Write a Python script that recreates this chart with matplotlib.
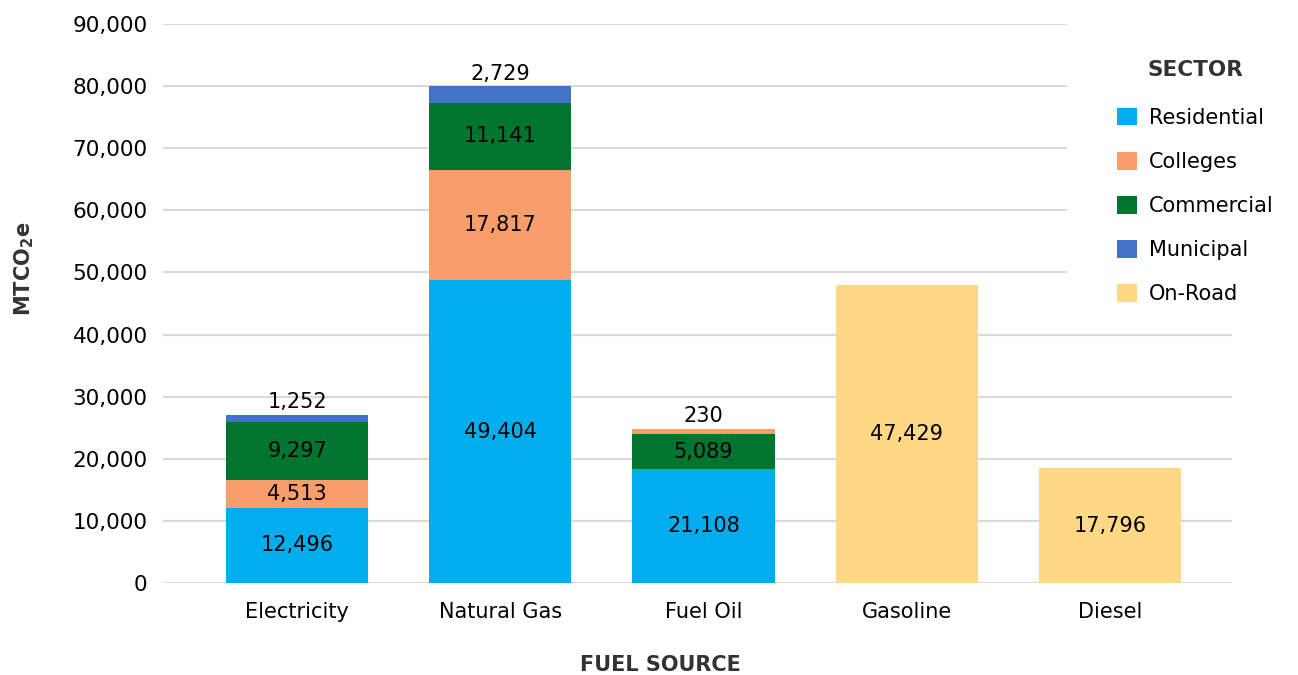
import numpy as np
import matplotlib
matplotlib.use("Agg")
import matplotlib.pyplot as plt
from matplotlib.patches import Rectangle

plt.rcParams["font.family"] = ["DejaVu Sans"]

fuels = ["Electricity", "Natural Gas", "Fuel Oil", "Gasoline", "Diesel"]
sectors = ["Residential", "Colleges", "Commercial", "Municipal", "On-Road"]
colors = ["#00AEEF", "#F79E6B", "#00752F", "#4472C4", "#FFD886"]

# bar heights as drawn in the picture
residential = [12100, 48710, 18390, 0, 0]
colleges = [4420, 17810, 0, 0, 0]
commercial = [9350, 10740, 5550, 0, 0]
municipal = [1180, 2690, 0, 0, 0]
colleges_top = [0, 0, 900, 0, 0]  # fuel oil colleges sits on top
on_road = [0, 0, 0, 48020, 18500]

# printed value labels
lab_residential = ["12,496", "49,404", "21,108", "", ""]
lab_colleges = ["4,513", "17,817", "", "", ""]
lab_colleges_top = ["", "", "230", "", ""]
lab_commercial = ["9,297", "11,141", "5,089", "", ""]
lab_municipal = ["1,252", "2,729", "", "", ""]
lab_on_road = ["", "", "", "47,429", "17,796"]

fig = plt.figure(figsize=(12.98, 6.75), dpi=100)
ax = fig.add_axes([163 / 1298, 1 - 583 / 675, 1069 / 1298, 559 / 675])

x = np.arange(len(fuels))
w = 0.70
series = [(residential, "Residential", colors[0]),
          (colleges, "Colleges", colors[1]),
          (commercial, "Commercial", colors[2]),
          (municipal, "Municipal", colors[3]),
          (colleges_top, "_nolegend_", colors[1]),
          (on_road, "On-Road", colors[4])]
bottom = np.zeros(len(fuels))
conts = []
for vals, name, c in series:
    bc = ax.bar(x, vals, w, bottom=bottom, color=c, label=name, zorder=2)
    conts.append(bc)
    bottom += np.array(vals)

fs = 15
ax.bar_label(conts[0], labels=lab_residential, label_type="center", fontsize=fs)
ax.bar_label(conts[1], labels=lab_colleges, label_type="center", fontsize=fs)
ax.bar_label(conts[2], labels=lab_commercial, label_type="center", fontsize=fs)
ax.bar_label(conts[3], labels=lab_municipal, label_type="edge", padding=2, fontsize=fs)
ax.bar_label(conts[4], labels=lab_colleges_top, label_type="edge", padding=2, fontsize=fs)
ax.bar_label(conts[5], labels=lab_on_road, label_type="center", fontsize=fs)

ax.set_xlim(-0.66, 4.6)
ax.set_ylim(0, 90000)
ax.set_yticks(np.arange(0, 90001, 10000))
ax.yaxis.set_major_formatter(matplotlib.ticker.FuncFormatter(lambda v, p: f"{v:,.0f}"))
ax.set_xticks(x)
ax.set_xticklabels(fuels)
ax.tick_params(axis="both", length=0, labelsize=fs, colors="#000000")
ax.tick_params(axis="y", pad=11, labelsize=15.5)
ax.tick_params(axis="x", pad=14)
ax.grid(axis="y", color="#D9D9D9", linewidth=1.5)
ax.set_axisbelow(True)
for s in ax.spines.values():
    s.set_visible(False)

ax.set_ylabel(r"MTCO$_\mathbf{2}$e", fontsize=15, fontweight="bold", color="#333333")
ax.yaxis.set_label_coords(-0.119, 0.562)
ax.set_xlabel("FUEL SOURCE", fontsize=15, fontweight="bold", color="#333333")
ax.xaxis.set_label_coords(0.465, -0.128)

# white box behind the legend hiding the grid lines
ax.add_patch(Rectangle((0.846, 0.497), 0.3, 0.6, transform=ax.transAxes,
                       facecolor="white", edgecolor="none", zorder=1, clip_on=False))

leg = ax.legend(loc="upper left", bbox_to_anchor=(1098 / 1298, 1 - 41 / 675),
                bbox_transform=fig.transFigure, frameon=False, fontsize=15,
                title="SECTOR", title_fontproperties={"weight": "bold", "size": 15.5},
                handlelength=0.95, handleheight=0.95, handletextpad=0.6,
                labelspacing=1.15)
leg._legend_box.align = "center"
leg._legend_box.sep = 20
leg.get_title().set_color("#333333")

fig.savefig("out.png", dpi=100)
